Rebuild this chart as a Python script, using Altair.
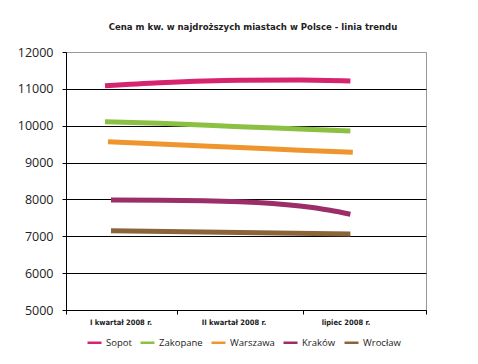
import altair as alt
import pandas as pd

title = "Cena m kw. w najdroższych miastach w Polsce - linia trendu"
cities = ["Sopot", "Zakopane", "Warszawa", "Kraków", "Wrocław"]
colors = ["#D6246E", "#8CC043", "#F0952E", "#9B2D68", "#8B6439"]

# x positions (axis units, 0..3) where the trend values were read
sopot_x = [0.325, 0.78, 1.45, 1.95, 2.37]
sopot_y = [11085, 11167, 11235, 11240, 11213]
zakopane_x = [0.325, 0.78, 1.45, 1.95, 2.37]
zakopane_y = [10108, 10065, 9973, 9910, 9856]
warszawa_x = [0.35, 0.78, 1.45, 1.95, 2.39]
warszawa_y = [9566, 9501, 9407, 9336, 9278]
krakow_x = [0.375, 0.78, 1.45, 1.95, 2.2, 2.37]
krakow_y = [7984, 7980, 7938, 7821, 7705, 7596]
wroclaw_x = [0.375, 1.45, 2.37]
wroclaw_y = [7152, 7100, 7062]

categories = ["I kwartał 2008 r.", "II kwartał 2008 r.", "lipiec 2008 r."]
category_pos = [0.458, 1.4, 2.333]
x_ticks = [0, 0.925, 1.975, 3]
y_ticks = [5000, 6000, 7000, 8000, 9000, 10000, 11000, 12000]

NARROW = "'DejaVu Sans Condensed', 'Liberation Sans Narrow', Roboto, sans-serif"

series = [
    ("Sopot", sopot_x, sopot_y),
    ("Zakopane", zakopane_x, zakopane_y),
    ("Warszawa", warszawa_x, warszawa_y),
    ("Kraków", krakow_x, krakow_y),
    ("Wrocław", wroclaw_x, wroclaw_y),
]
rows = []
for name, xs, ys in series:
    for i, (xv, yv) in enumerate(zip(xs, ys)):
        rows.append({"city": name, "x": xv, "value": yv, "order": i})
df = pd.DataFrame(rows)
cat_df = pd.DataFrame({"label": categories, "x": category_pos})

xscale = alt.Scale(domain=[0, 3], nice=False, zero=False)

lines = alt.Chart(df).mark_line(strokeWidth=5, interpolate="monotone", strokeCap="butt").encode(
    x=alt.X("x:Q", scale=xscale,
            axis=alt.Axis(values=x_ticks, labels=False, title=None, grid=False,
                          domainColor="black", tickColor="black", tickSize=4)),
    y=alt.Y("value:Q", scale=alt.Scale(domain=[5000, 12000], nice=False, zero=False),
            axis=alt.Axis(values=y_ticks, title=None, format="d",
                          gridColor=alt.condition(alt.datum.value == 12000, alt.value("#999999"), alt.value("black")),
                          domainColor="black", tickColor="black", tickSize=4,
                          labelPadding=9, labelFont="Open Sans", labelFontSize=12.5,
                          labelColor="#222")),
    color=alt.Color("city:N", scale=alt.Scale(domain=cities, range=colors),
                    legend=alt.Legend(title=None, orient="none", legendX=20, legendY=282,
                                      direction="horizontal", columns=5,
                                      symbolType="stroke", symbolStrokeWidth=2.5,
                                      symbolSize=196, columnPadding=3, labelOffset=3,
                                      labelFont="Open Sans", labelFontSize=9.5,
                                      labelColor="#222")),
    order="order:Q",
)

labels = alt.Chart(cat_df).mark_text(
    font=NARROW, fontWeight="bold", fontSize=7.5, color="#222",
    baseline="middle").encode(
    x=alt.X("x:Q", scale=xscale),
    y=alt.value(271),
    text="label:N",
)

chart = alt.layer(lines, labels).properties(
    width=360, height=258,
    title=alt.TitleParams(title, font=NARROW, fontSize=9.5, fontWeight="bold",
                          color="#222", anchor="middle", dx=7, offset=15),
    autosize=alt.AutoSizeParams(type="none"),
    padding={"left": 58, "top": 44, "right": 44, "bottom": 46},
).configure_view(stroke="#999999", strokeWidth=1)

chart.save("out.html", embed_options={"renderer": "svg", "actions": False})
